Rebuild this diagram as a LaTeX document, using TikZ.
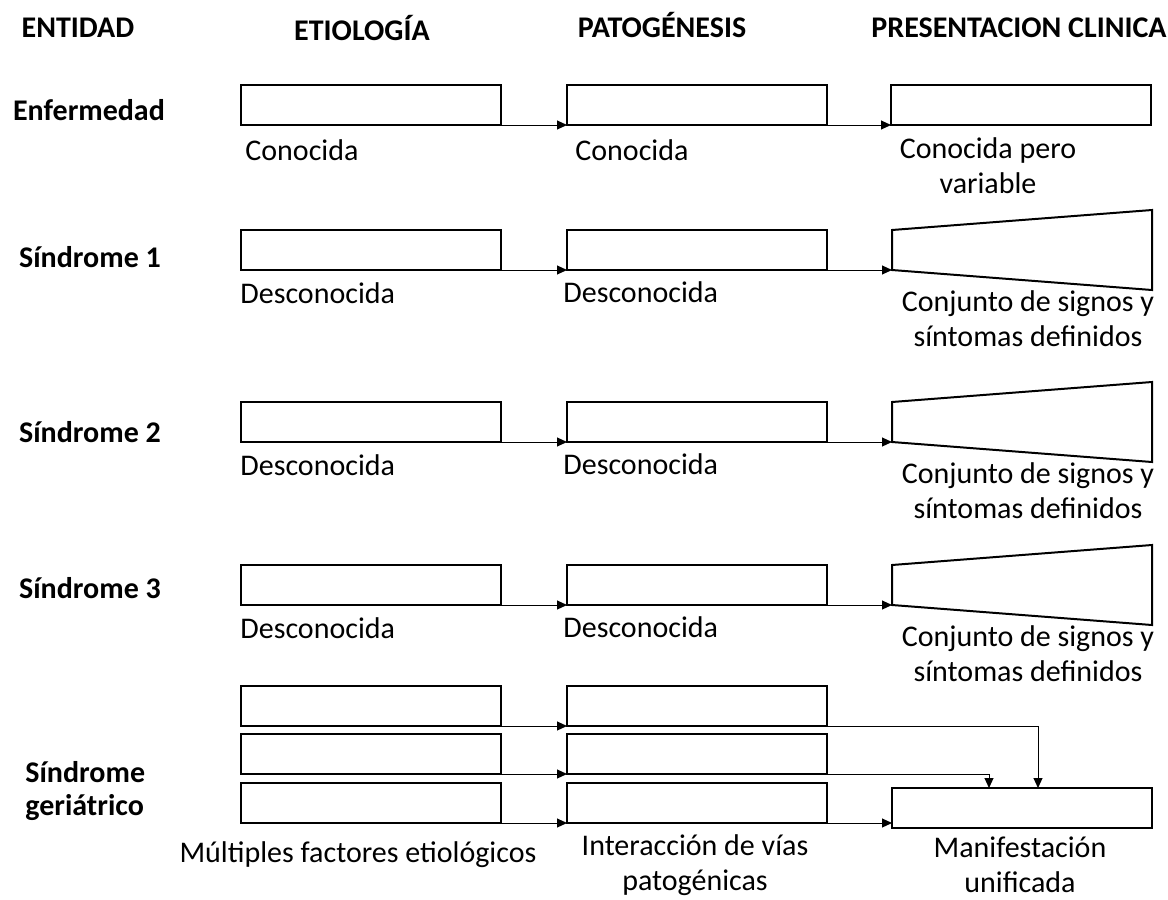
\documentclass[tikz,border=0pt]{standalone}
\usepackage{fontspec}
\setmainfont{Carlito}
\usetikzlibrary{arrows.meta}

\tikzset{
    caja/.style={draw, line width=1pt, minimum width=130pt, minimum height=20pt, inner sep=0pt, outer sep=0pt},
    flecha/.style={-{Triangle[length=5pt,width=4.5pt]}, line width=0.5pt},
    texto/.style={font=\fontsize{15}{17.5}\selectfont, inner sep=0pt},
    titulo/.style={font=\fontsize{15}{16.5}\selectfont\bfseries, inner sep=0pt}
}

\begin{document}
\begin{tikzpicture}[x=0.5pt,y=-0.5pt]
    \useasboundingbox (0,0) rectangle (1168,900);

    % Column headers
    \node[titulo, anchor=base] (hEnt) at (78,37) {ENTIDAD};
    \node[titulo, anchor=base] (hEti) at (362,40) {ETIOLOGÍA};
    \node[titulo, anchor=base] (hPat) at (662,37) {PATOGÉNESIS};
    \node[titulo, anchor=base] (hPre) at (1019,37) {PRESENTACION CLINICA};

    % Enfermedad
    \node[titulo] (ent1) at (89,110) {Enfermedad};
    \node[caja] (eti1) at (371,105) {};
    \node[caja] (pat1) at (697,105) {};
    \node[caja] (pre1) at (1021,105) {};
    \draw[flecha] (eti1.south east) -- (eti1.south east -| pat1.west);
    \draw[flecha] (pat1.south east) -- (pat1.south east -| pre1.west);
    \node[texto, anchor=west] (leti1) at (245,150) {Conocida};
    \node[texto, anchor=west] (lpat1) at (575,150) {Conocida};
    \node[texto, align=center] (lpre1) at (988,166) {Conocida pero\\variable};

    % Sindromes 1 to 3
    \foreach \n/\y/\yl in {2/250/257, 3/422/432, 4/585/588} {
        \node[titulo] (ent\n) at (90,\yl) {Síndrome \the\numexpr\n-1\relax};
        \node[caja] (eti\n) at (371,\y) {};
        \node[caja] (pat\n) at (697,\y) {};
        \coordinate (tra\n) at (892,\y+20);
        \draw[line width=1pt] (tra\n) -- ++(0,-40) -- ++(260,-20) -- ++(0,80) -- cycle;
        \draw[flecha] (eti\n.south east) -- (eti\n.south east -| pat\n.west);
        \draw[flecha] (pat\n.south east) -- (tra\n);
        \node[texto, anchor=west] (leti\n) at (240,\y+43) {Desconocida};
        \node[texto, anchor=west] (lpat\n) at (563,\y+42) {Desconocida};
        \node[texto, align=center] (lpre\n) at (1028,\y+69) {Conjunto de signos y\\síntomas definidos};
    }

    % Sindrome geriatrico
    \node[titulo, anchor=west, align=left] (entG) at (25,791) {Síndrome\\geriátrico};
    \foreach \n/\y in {1/706, 2/754, 3/803} {
        \node[caja] (meti\n) at (371,\y) {};
        \node[caja] (mpat\n) at (697,\y) {};
        \draw[flecha] (meti\n.south east) -- (meti\n.south east -| mpat\n.west);
    }
    \node[caja] (manif) at (1022,808) {};
    \draw[flecha] (mpat1.south east) -| ([xshift=8pt]manif.north);
    \draw[flecha] (mpat2.south east) -| ([xshift=-16.5pt]manif.north);
    \draw[flecha] (mpat3.south east) -- (mpat3.south east -| manif.west);

    \node[texto] (lmEti) at (358,855) {Múltiples factores etiológicos};
    \node[texto, align=center] (lmPat) at (695,865) {Interacción de vías\\patogénicas};
    \node[texto, align=center] (lmMan) at (1020,865) {Manifestación\\unificada};
\end{tikzpicture}
\end{document}
